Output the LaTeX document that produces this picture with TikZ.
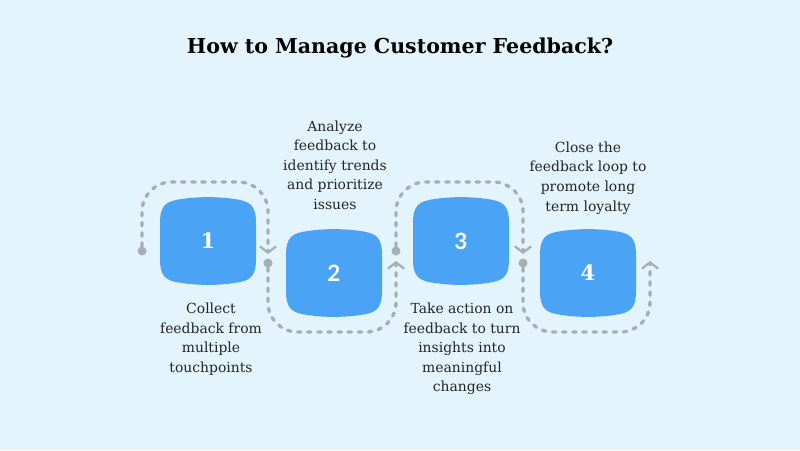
\documentclass[tikz,border=0pt]{standalone}
\usepackage{fontspec}
\setmainfont{DejaVu Serif}
\newfontfamily\numsans{Lato}
\usetikzlibrary{arrows.meta}

\definecolor{bgblue}{HTML}{E3F4FC}
\definecolor{boxblue}{HTML}{4BA3F5}
\definecolor{dashgray}{HTML}{A6AFB4}

\tikzset{
  flowline/.style={draw=dashgray, line width=2.4pt, line cap=round,
    dash pattern=on 2.4pt off 4.8pt, rounded corners=21pt},
  tip/.style={-{Straight Barb[length=4.4pt,width=11.5pt,line width=1.6pt]}},
  dot/.style={circle, fill=dashgray, inner sep=0pt, minimum size=6.4pt},
  num/.style={text=white, font=\bfseries\fontsize{15}{15}\selectfont},
  note/.style={align=center, font=\fontsize{9.9}{13.9}\selectfont, text=black!85},
  blob/.pic={
    \fill[boxblue] (-48,-18) -- (-48,18)
      .. controls (-48,36) and (-42,40) .. (-26,42)
      .. controls (-10,44.5) and (10,44.5) .. (26,42)
      .. controls (42,40) and (48,36) .. (48,18) -- (48,-18)
      .. controls (48,-36) and (42,-40) .. (26,-42)
      .. controls (10,-44.5) and (-10,-44.5) .. (-26,-42)
      .. controls (-42,-40) and (-48,-36) .. (-48,-18) -- cycle;
  }
}

\begin{document}
\begin{tikzpicture}[x=0.025cm, y=-0.025cm]
\fill[bgblue] (0,0) rectangle (800,450);
\useasboundingbox (0,0) rectangle (800,450);

% title
\node[font=\bfseries\fontsize{14.6}{16}\selectfont] (title) at (400,48) {How to Manage Customer Feedback?};

% the four steps
\pic at (208,241) {blob};
\pic at (334,273) {blob};
\pic at (461,241) {blob};
\pic at (588,273) {blob};
\node[num] (b1) at (208,241) {1};
\node[num, font=\numsans\bfseries\fontsize{16}{16}\selectfont] (b2) at (334,273) {2};
\node[num, font=\numsans\bfseries\fontsize{16}{16}\selectfont] (b3) at (461,241) {3};
\node[num] (b4) at (588,273) {4};

% dashed loops
\node[dot] (d1) at (142,251) {};
\node[dot] (d2) at (268,263) {};
\node[dot] (d3) at (396,251) {};
\node[dot] (d4) at (523,263) {};
\coordinate (e1) at (268,254);
\coordinate (e2) at (396,261);
\coordinate (e3) at (523,254);
\coordinate (e4) at (650,261);

\draw[flowline, tip] (d1) |- (205,182) -| (e1);
\draw[flowline, tip] (d2) |- (330,332) -| (e2);
\draw[flowline, tip] (d3) |- (460,182) -| (e3);
\draw[flowline, tip] (d4) |- (585,332) -| (e4);

% notes
\node[note] (t1) at (211,339) {Collect\\feedback from\\multiple\\touchpoints};
\node[note] (t2) at (335,165) {Analyze\\feedback to\\identify trends\\and prioritize\\issues};
\node[note] (t3) at (462,349) {Take action on\\feedback to turn\\insights into\\meaningful\\changes};
\node[note] (t4) at (588,178) {Close the\\feedback loop to\\promote long\\term loyalty};
\end{tikzpicture}
\end{document}
